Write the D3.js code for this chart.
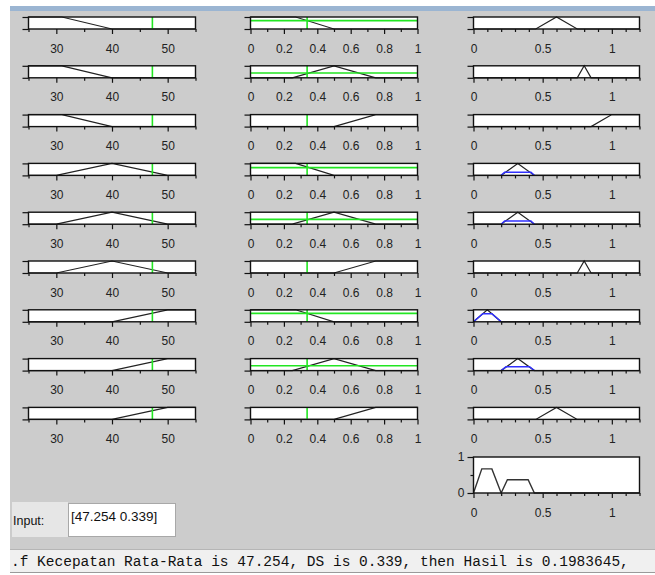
<!DOCTYPE html>
<html>
<head>
<meta charset="utf-8">
<script src="https://cdnjs.cloudflare.com/ajax/libs/d3/7.8.5/d3.min.js"></script>
<style>
  body { margin: 0; background: #fff; }
  text { font-family: "Liberation Sans", Arial, sans-serif; }
</style>
</head>
<body>
<svg id="svg1" width="655" height="575"></svg>
<script>
    const svg = d3.select("#svg1");
    const width = +svg.attr("width");
    const height = +svg.attr("height");

    // input values
    const inputKecepatan = 47.254;
    const inputDS = 0.339;

    // ticks
    const kecepatanMajor = [30, 40, 50];
    const kecepatanMinor = [25, 35, 45, 55];
    const dsMajor = [0, 0.2, 0.4, 0.6, 0.8, 1];
    const dsMinor = [0.1, 0.3, 0.5, 0.7, 0.9];
    const hasilMajor = [0, 0.5, 1];
    const hasilMinor = [0.1, 0.2, 0.3, 0.4, 0.6, 0.7, 0.8, 0.9, 1.1, 1.2];

    // membership functions, [x, mu]
    const mfLambat = [[25, 1], [31, 1], [40, 0], [55, 0]];
    const mfSedang = [[25, 0], [30, 0], [40, 1], [50, 0], [55, 0]];
    const mfCepat = [[25, 0], [40, 0], [50, 1], [55, 1]];

    const mfKecil = [[0, 1], [0.27, 1], [0.5, 0], [1, 0]];
    const mfTengah = [[0, 0], [0.25, 0], [0.5, 1], [0.75, 0], [1, 0]];
    const mfBesar = [[0, 0], [0.5, 0], [0.75, 1], [1, 1]];

    const outA = [[0, 0], [0.45, 0], [0.6, 1], [0.75, 0], [1.2, 0]];
    const outB = [[0, 0], [0.75, 0], [0.8, 1], [0.85, 0], [1.2, 0]];
    const outC = [[0, 0], [0.85, 0], [1, 1], [1.2, 1]];
    const outD = [[0, 0], [0.2, 0], [0.32, 1], [0.44, 0], [1.2, 0]];
    const outE = [[0, 0], [0.1, 1], [0.2, 0], [1.2, 0]];

    // rule rows
    const rowKecepatan = [mfLambat, mfLambat, mfLambat, mfSedang, mfSedang, mfSedang, mfCepat, mfCepat, mfCepat];
    const rowDS = [mfKecil, mfTengah, mfBesar, mfKecil, mfTengah, mfBesar, mfKecil, mfTengah, mfBesar];
    const rowHasil = [outA, outB, outC, outD, outD, outB, outE, outD, outA];
    // green level on DS plots (null = none drawn)
    const rowDSLevel = [0.7, 0.4, null, 0.65, 0.4, null, 0.7, 0.4, null];
    // blue clipped output shapes
    const rowHasilClip = [
        null, null, null,
        [[0.2, 0], [0.225, 0.27], [0.415, 0.27], [0.44, 0]],
        [[0.2, 0], [0.225, 0.27], [0.415, 0.27], [0.44, 0]],
        null,
        [[0, 0], [0.067, 0.67], [0.133, 0.67], [0.2, 0]],
        [[0.2, 0], [0.235, 0.33], [0.405, 0.33], [0.44, 0]],
        null
    ];
    // aggregated output
    const aggHasil = [[0, 0], [0.06, 0.67], [0.133, 0.67], [0.2, 0], [0.245, 0.37], [0.395, 0.37], [0.44, 0], [1.2, 0]];

    const statusText = ".f Kecepatan Rata-Rata is 47.254, DS is 0.339, then Hasil is 0.1983645,";

    // background / window chrome
    svg.append("rect").attr("width", width).attr("height", height).attr("fill", "#fff");
    svg.append("rect").attr("x", 10).attr("y", 6).attr("width", width - 10).attr("height", 5).attr("fill", "#9bb5d2");
    svg.append("rect").attr("x", 10).attr("y", 11).attr("width", width - 10).attr("height", 538).attr("fill", "#cccccc");

    const rowTop = i => 17 + i * 48.8;
    const boxH = 12;
    const green = "#22e622";

    const xK = d3.scaleLinear().domain([25, 55]).range([28.5, 195.5]);
    const xD = d3.scaleLinear().domain([0, 1]).range([250.5, 417.5]);
    const xH = d3.scaleLinear().domain([0, 1.2]).range([473.5, 639.5]);

    function drawPanel(g, x, h, major, minor, fmt) {
        const y = d3.scaleLinear().domain([0, 1]).range([h, 0]);
        g.append("rect")
            .attr("x", x.range()[0]).attr("y", 0)
            .attr("width", x.range()[1] - x.range()[0]).attr("height", h)
            .attr("fill", "#fff");
        const minorAxis = g.append("g").attr("transform", "translate(0," + h + ")")
            .call(d3.axisBottom(x).tickValues(minor).tickSize(3).tickSizeOuter(0).tickFormat(""));
        const majorAxis = g.append("g").attr("transform", "translate(0," + h + ")")
            .call(d3.axisBottom(x).tickValues(major).tickSize(5).tickSizeOuter(0).tickPadding(10).tickFormat(fmt));
        [minorAxis, majorAxis].forEach(a => {
            a.select(".domain").remove();
            a.selectAll("line").attr("stroke", "#111").attr("stroke-width", 1.2);
        });
        majorAxis.selectAll("text").attr("font-size", "12px").attr("fill", "#222");
        const yAxis = g.append("g").attr("transform", "translate(" + x.range()[0] + ",0)")
            .call(d3.axisLeft(y).tickValues([0, 1]).tickSize(6).tickSizeOuter(0).tickFormat(""));
        yAxis.select(".domain").remove();
        yAxis.selectAll("line").attr("stroke", "#111").attr("stroke-width", 1.2);
        return y;
    }

    function outline(g, x, h) {
        g.append("rect")
            .attr("x", x.range()[0]).attr("y", 0)
            .attr("width", x.range()[1] - x.range()[0]).attr("height", h)
            .attr("fill", "none").attr("stroke", "#111").attr("stroke-width", 1.4);
    }

    const fmtK = d3.format("d");
    const fmtD = d => d === 0 || d === 1 ? String(d) : d3.format(".1f")(d);
    const fmtH = d => String(d);

    for (let i = 0; i < 9; i++) {
        // column 1: Kecepatan Rata-Rata
        const g1 = svg.append("g").attr("transform", "translate(0," + rowTop(i) + ")");
        const y1 = drawPanel(g1, xK, boxH, kecepatanMajor, kecepatanMinor, fmtK);
        const line1 = d3.line().x(d => xK(d[0])).y(d => y1(d[1]));
        g1.append("path").datum(rowKecepatan[i]).attr("d", line1)
            .attr("fill", "none").attr("stroke", "#222").attr("stroke-width", 1.2);
        g1.append("line").attr("x1", xK(inputKecepatan)).attr("x2", xK(inputKecepatan))
            .attr("y1", 0).attr("y2", boxH).attr("stroke", green).attr("stroke-width", 1.6);
        outline(g1, xK, boxH);

        // column 2: DS
        const g2 = svg.append("g").attr("transform", "translate(0," + rowTop(i) + ")");
        const y2 = drawPanel(g2, xD, boxH, dsMajor, dsMinor, fmtD);
        const line2 = d3.line().x(d => xD(d[0])).y(d => y2(d[1]));
        g2.append("path").datum(rowDS[i]).attr("d", line2)
            .attr("fill", "none").attr("stroke", "#222").attr("stroke-width", 1.2);
        if (rowDSLevel[i] !== null) {
            g2.append("line").attr("x1", xD(0)).attr("x2", xD(1))
                .attr("y1", y2(rowDSLevel[i])).attr("y2", y2(rowDSLevel[i]))
                .attr("stroke", green).attr("stroke-width", 1.6);
        }
        g2.append("line").attr("x1", xD(inputDS)).attr("x2", xD(inputDS))
            .attr("y1", 0).attr("y2", boxH).attr("stroke", green).attr("stroke-width", 1.6);
        outline(g2, xD, boxH);

        // column 3: Hasil
        const g3 = svg.append("g").attr("transform", "translate(0," + rowTop(i) + ")");
        const y3 = drawPanel(g3, xH, boxH, hasilMajor, hasilMinor, fmtH);
        const line3 = d3.line().x(d => xH(d[0])).y(d => y3(d[1]));
        g3.append("path").datum(rowHasil[i]).attr("d", line3)
            .attr("fill", "none").attr("stroke", "#222").attr("stroke-width", 1.2);
        if (rowHasilClip[i]) {
            g3.append("path").datum(rowHasilClip[i]).attr("d", line3)
                .attr("fill", "none").attr("stroke", "#3030ff").attr("stroke-width", 1.5);
        }
        outline(g3, xH, boxH);
    }

    // aggregated output plot
    const aggTop = 457, aggH = 36;
    const gA = svg.append("g").attr("transform", "translate(0," + aggTop + ")");
    const yA = d3.scaleLinear().domain([0, 1]).range([aggH, 0]);
    gA.append("rect").attr("x", xH.range()[0]).attr("y", 0)
        .attr("width", xH.range()[1] - xH.range()[0]).attr("height", aggH).attr("fill", "#fff");
    const aMinor = gA.append("g").attr("transform", "translate(0," + aggH + ")")
        .call(d3.axisBottom(xH).tickValues(hasilMinor).tickSize(3).tickSizeOuter(0).tickFormat(""));
    const aMajor = gA.append("g").attr("transform", "translate(0," + aggH + ")")
        .call(d3.axisBottom(xH).tickValues(hasilMajor).tickSize(5).tickSizeOuter(0).tickPadding(10).tickFormat(fmtH));
    const aYMajor = gA.append("g").attr("transform", "translate(" + xH.range()[0] + ",0)")
        .call(d3.axisLeft(yA).tickValues([0, 1]).tickSize(6).tickSizeOuter(0).tickPadding(3).tickFormat(d3.format("d")));
    const aYMinor = gA.append("g").attr("transform", "translate(" + xH.range()[0] + ",0)")
        .call(d3.axisLeft(yA).tickValues([0.5]).tickSize(3).tickSizeOuter(0).tickFormat(""));
    [aMinor, aMajor, aYMajor, aYMinor].forEach(a => {
        a.select(".domain").remove();
        a.selectAll("line").attr("stroke", "#111").attr("stroke-width", 1.2);
        a.selectAll("text").attr("font-size", "12px").attr("fill", "#222");
    });
    gA.append("path").datum(aggHasil)
        .attr("d", d3.line().x(d => xH(d[0])).y(d => yA(d[1])))
        .attr("fill", "none").attr("stroke", "#333").attr("stroke-width", 1.4);
    outline(gA, xH, aggH);

    // input field
    svg.append("rect").attr("x", 12).attr("y", 502).attr("width", 56).attr("height", 35).attr("fill", "#e6e6e6");
    svg.append("text").attr("x", 13).attr("y", 525).attr("font-size", "12.5px").attr("fill", "#111").text("Input:");
    svg.append("rect").attr("x", 68.5).attr("y", 503.5).attr("width", 107).attr("height", 33)
        .attr("fill", "#fff").attr("stroke", "#a8a8a8");
    svg.append("text").attr("x", 71).attr("y", 521).attr("font-size", "13.5px").attr("fill", "#111").text("[" + inputKecepatan + " " + inputDS + "]");

    // status line
    svg.append("rect").attr("x", 10).attr("y", 549).attr("width", width - 10).attr("height", 24)
        .attr("fill", "#f0f0f0");
    svg.append("line").attr("x1", 10).attr("x2", width).attr("y1", 549.5).attr("y2", 549.5).attr("stroke", "#b5b5b5");
    svg.append("line").attr("x1", 10).attr("x2", width).attr("y1", 572.5).attr("y2", 572.5).attr("stroke", "#9a9a9a");
    svg.append("text").attr("x", 11).attr("y", 566)
        .style("font-family", "'Liberation Mono', 'Courier New', monospace")
        .attr("font-size", "14.5px").attr("fill", "#111").text(statusText);
</script>
</body>
</html>
